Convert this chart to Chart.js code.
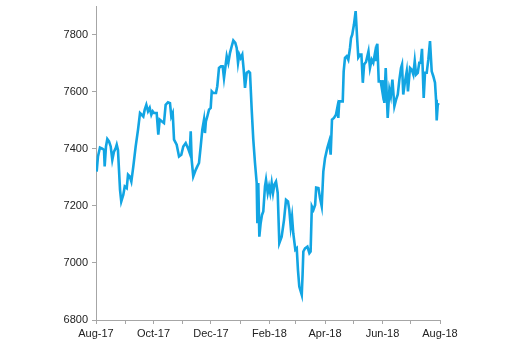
<!DOCTYPE html>
<html>
<head>
<meta charset="utf-8">
<script src="https://cdn.jsdelivr.net/npm/chart.js@4/dist/chart.umd.min.js"></script>
<style>
html,body{margin:0;padding:0;background:#fff;}
#c{display:block;}
</style>
</head>
<body>
<canvas id="c" width="512" height="358"></canvas>
<script>
// Days since 1 Aug 2017
const days = [0.7,2.1,4.2,6.7,8.5,9.2,10.6,12,13.8,15.6,17.3,19.1,20.9,22,23.3,25.5,26.8,29,30.5,32.6,34,35.8,37.5,39.6,42.1,44.6,46.7,48.5,50.2,51.7,53.4,55.2,57,58.7,60.2,61.5,64.4,66.1,67.6,69.7,72.1,73.9,76.4,78.5,79.9,81.4,82.8,85.6,88.1,90.5,92.6,95.2,97.6,99.4,100.5,101.5,103.2,105.8,107.5,109.3,111.1,112.8,114.6,115.6,116.6,118.1,119.9,121.7,122.8,124.5,127.3,128.7,130.5,132.6,134.4,135.8,137.6,138.7,140.4,142.2,144,145.7,147.8,149.3,150.7,152,153.5,155.2,156.7,158.1,159.9,162,163.4,165.2,166.9,168.7,170.5,171.2,172.2,173.3,174.7,176.1,177.5,179.3,180.4,182.2,183.6,184.9,186.4,187.8,189.2,191,192.8,194.5,197,199.5,201.6,203.7,205.1,206.6,208,209.3,211.5,213,214.3,215.7,218.3,219.2,220,221.8,224.3,226.4,227.7,229,230.7,232.5,233.6,236,237.7,239.5,241.2,243,245.4,247.5,249,250.4,252.5,254.6,256,257.1,258.1,261.8,262.8,264.2,266,267.7,269.5,270.6,271.9,273.7,275.5,277.2,278.3,280.2,281.6,283.1,284.5,286.6,289.1,290.7,292.5,294.2,296.1,297.1,298.5,300,302.1,303.8,304.9,305.9,307.4,308.5,309.5,311.3,312.8,314.5,316.6,318.4,320.2,321.9,323.6,324.7,326,327.9,329.7,331,333.2,335,336.7,338.2,339.6,341.4,343,344.5,345.9,347.7,349.1,350.9,352.6,354.4,356.2,357.9,359.7,360.8,361.5,362.6,363.6];
const values = [7320,7373,7404,7400,7396,7338,7408,7434,7426,7408,7361,7390,7402,7414,7396,7256,7215,7239,7268,7262,7309,7303,7285,7338,7408,7467,7525,7519,7513,7537,7554,7531,7543,7519,7531,7525,7525,7449,7502,7496,7490,7554,7563,7560,7513,7525,7432,7414,7373,7379,7408,7420,7402,7385,7461,7361,7303,7326,7338,7350,7408,7467,7502,7455,7496,7513,7537,7543,7601,7595,7595,7619,7683,7689,7689,7648,7695,7724,7701,7736,7759,7779,7771,7753,7701,7730,7718,7730,7677,7613,7666,7671,7666,7537,7432,7350,7280,7139,7280,7092,7139,7168,7180,7268,7291,7245,7268,7245,7280,7245,7274,7285,7245,7069,7092,7151,7221,7215,7186,7127,7162,7104,7046,7051,6975,6917,6888,6960,7040,7051,7057,7034,7040,7198,7186,7203,7264,7262,7227,7198,7320,7367,7402,7426,7379,7502,7508,7519,7543,7508,7566,7566,7671,7718,7724,7712,7753,7788,7800,7835,7882,7780,7720,7730,7730,7631,7695,7705,7741,7683,7712,7701,7736,7707,7768,7636,7636,7601,7640,7560,7683,7590,7508,7607,7584,7642,7549,7572,7590,7642,7683,7695,7590,7636,7671,7601,7683,7677,7660,7707,7660,7666,7701,7701,7750,7578,7666,7666,7712,7777,7671,7654,7631,7572,7499,7554,7560];
// Month starts (days since 1 Aug 2017) and labels
const monthStarts = [0,31,61,92,122,153,184,212,243,273,304,334,365];
const monthLabels = ['Aug-17','','Oct-17','','Dec-17','','Feb-18','','Apr-18','','Jun-18','','Aug-18'];
const yTicks = [6800,7000,7200,7400,7600,7800];

const points = days.map((d,i)=>({x:d,y:values[i]}));
const axisColor = '#a6a6a6';
const font = {family:'"Liberation Sans", Arial, sans-serif', size:11};

new Chart(document.getElementById('c'), {
  type:'line',
  data:{datasets:[{data:points,borderColor:'#12a5e3',borderWidth:2.6,pointRadius:0,tension:0,fill:false}]},
  options:{
    responsive:false,animation:false,
    layout:{padding:{left:0,right:72,top:6,bottom:0}},
    plugins:{legend:{display:false},tooltip:{enabled:false}},
    scales:{
      x:{type:'linear',min:0,max:365,
        afterBuildTicks:s=>{s.ticks=monthStarts.map(v=>({value:v}));},
        afterFit:s=>{s.height=38;},
        grid:{drawOnChartArea:false,drawTicks:true,tickLength:4,color:axisColor},
        border:{display:true,color:axisColor,width:1},
        ticks:{autoSkip:false,maxRotation:0,padding:3,color:'#222',font:font,
          callback:(v)=>{const i=monthStarts.indexOf(v);return i>=0?monthLabels[i]:'';}}
      },
      y:{min:6800,max:7900,
        afterBuildTicks:s=>{s.ticks=yTicks.map(v=>({value:v}));},
        afterFit:s=>{s.width=96;s.paddingTop=0;s.paddingBottom=0;},
        grid:{drawOnChartArea:false,drawTicks:true,tickLength:4,color:axisColor},
        border:{display:true,color:axisColor,width:1},
        ticks:{padding:4,color:'#222',font:font,callback:v=>String(v)}
      }
    }
  }
});
</script>
</body>
</html>
